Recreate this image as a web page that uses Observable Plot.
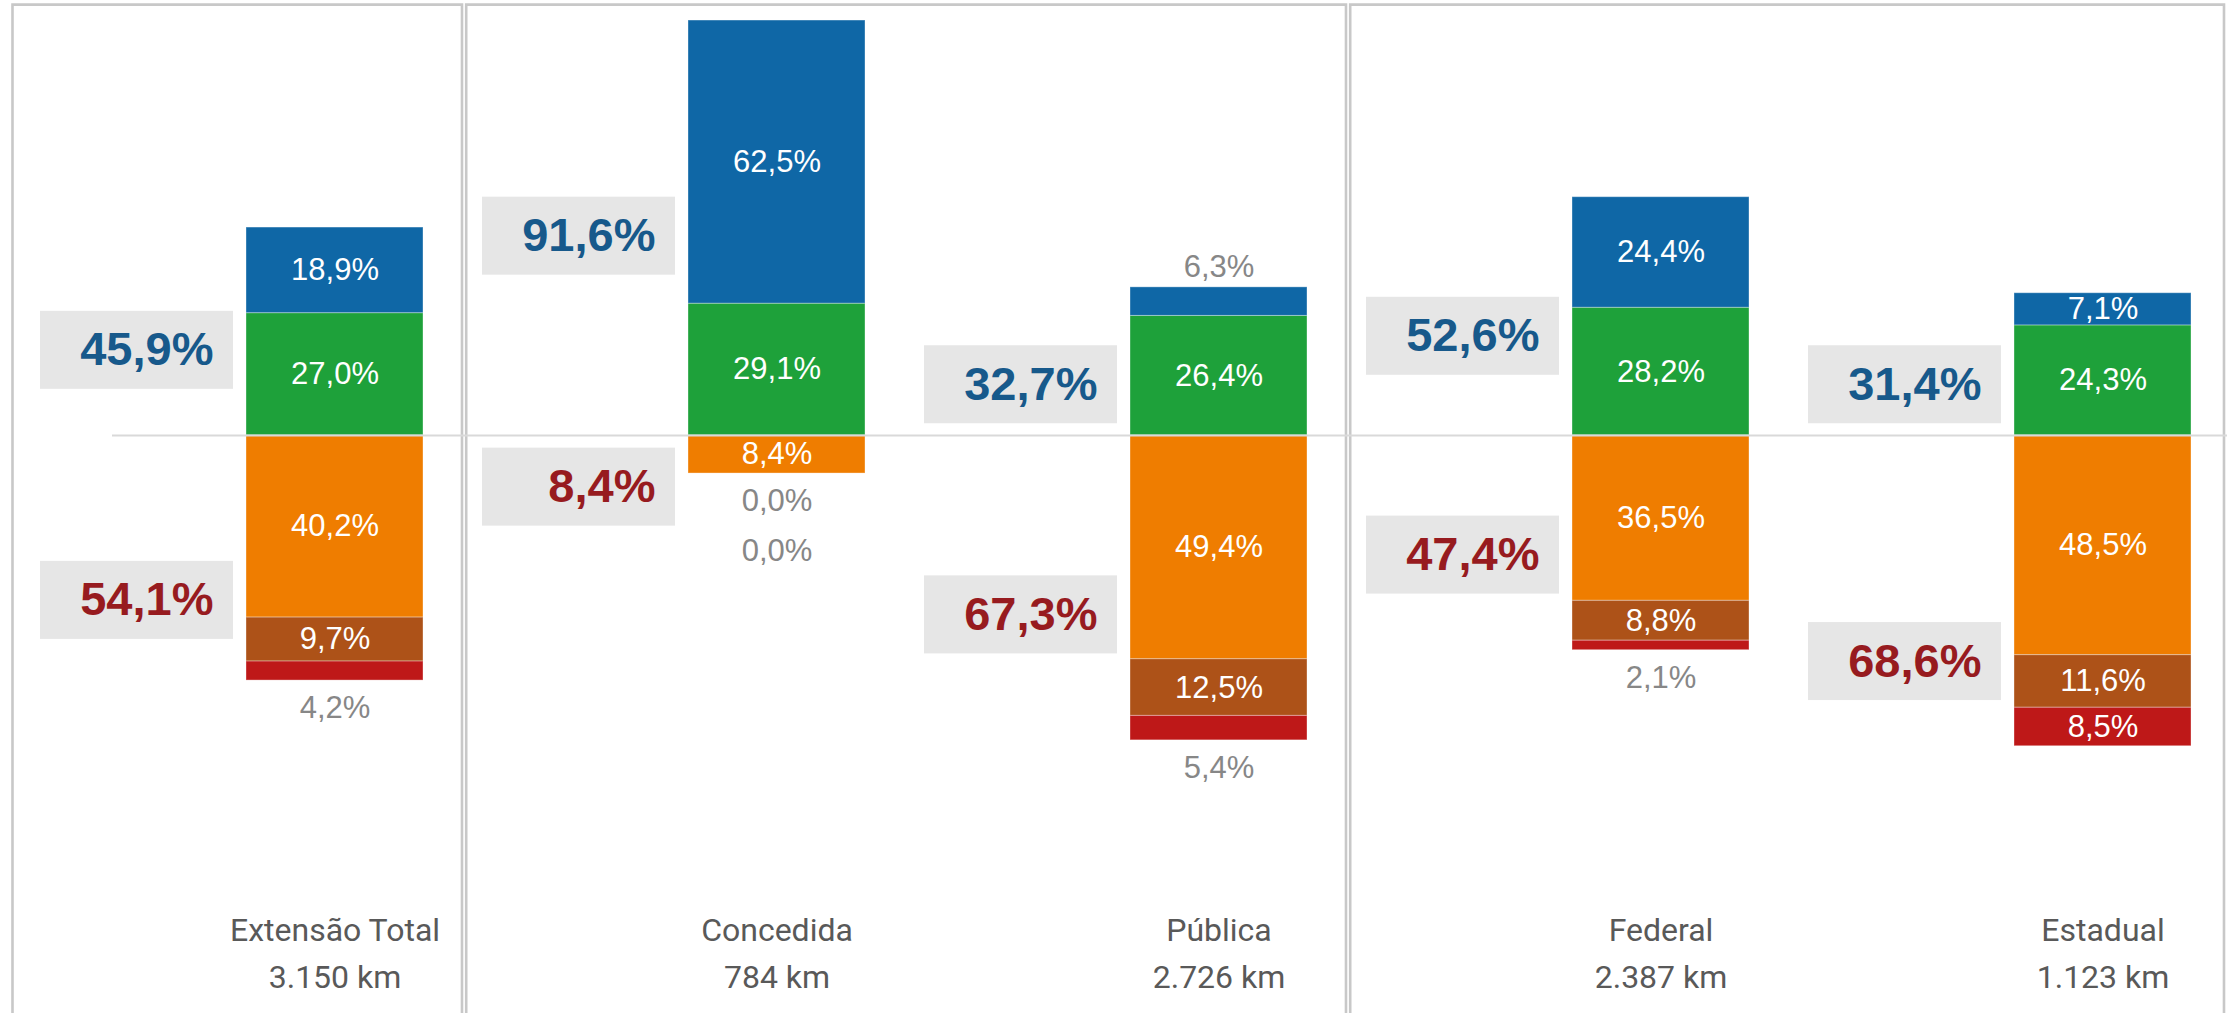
<!DOCTYPE html>
<html>
<head>
<meta charset="utf-8">
<script src="https://cdn.jsdelivr.net/npm/d3@7"></script>
<script src="https://cdn.jsdelivr.net/npm/@observablehq/plot@0.6"></script>
<style>
  html, body { margin: 0; padding: 0; background: #ffffff; }
  #chart svg { display: block; }
</style>
</head>
<body>
<div id="chart"></div>
<script>
// ---- data ----
const categories = ["Extensão Total", "Concedida", "Pública", "Federal", "Estadual"];
const kmLabels = ["3.150 km", "784 km", "2.726 km", "2.387 km", "1.123 km"];
const series = ["Ótimo", "Bom", "Regular", "Ruim", "Péssimo"];
const seriesColors = ["#0f67a6", "#1ea13a", "#ef7d00", "#ad5218", "#be1818"];
const otimo   = [18.9, 62.5,  6.3, 24.4,  7.1];
const bom     = [27.0, 29.1, 26.4, 28.2, 24.3];
const regular = [40.2,  8.4, 49.4, 36.5, 48.5];
const ruim    = [ 9.7,  0.0, 12.5,  8.8, 11.6];
const pessimo = [ 4.2,  0.0,  5.4,  2.1,  8.5];
const totalPositivo = [45.9, 91.6, 32.7, 52.6, 31.4];
const totalNegativo = [54.1,  8.4, 67.3, 47.4, 68.6];
// vertical anchor (in % units) of the grey summary boxes
const boxAnchorPositivo = [18.8, 44.0, 11.2, 21.9, 11.2];
const boxAnchorNegativo = [36.4, 11.4, 39.6, 26.4, 49.9];
const panelGroups = [["Extensão Total"], ["Concedida", "Pública"], ["Federal", "Estadual"]];

// ---- derived tables ----
const fmt = v => v.toFixed(1).replace(".", ",") + "%";
const positiveSeries = [["Bom", bom], ["Ótimo", otimo]];
const negativeSeries = [["Regular", regular], ["Ruim", ruim], ["Péssimo", pessimo]];

const rows = [];
categories.forEach((c, i) => {
  for (const [s, arr] of positiveSeries) rows.push({cat: c, serie: s, value: arr[i], v: arr[i]});
  for (const [s, arr] of negativeSeries) rows.push({cat: c, serie: s, value: -arr[i], v: arr[i]});
});

const outsideTop = [];
const outsideBottom = [];
categories.forEach((c, i) => {
  const top = d3.sum(positiveSeries, ([, a]) => a[i]);
  let k = 0;
  for (const [s, a] of [...positiveSeries].reverse()) if (a[i] < 7) outsideTop.push({cat: c, y: top, k: k++, text: fmt(a[i])});
  const bottom = -d3.sum(negativeSeries, ([, a]) => a[i]);
  k = 0;
  for (const [s, a] of negativeSeries) if (a[i] < 7) outsideBottom.push({cat: c, y: bottom, k: k++, text: fmt(a[i])});
});

const boxes = [];
categories.forEach((c, i) => {
  boxes.push({cat: c, y: boxAnchorPositivo[i], text: fmt(totalPositivo[i]), color: "#17598b"});
  boxes.push({cat: c, y: -boxAnchorNegativo[i], text: fmt(totalNegativo[i]), color: "#971b1f"});
});

// ---- panel frames, drawn from the x scale ----
function panels(index, scales, values, dims) {
  const x = scales.x;
  const bw = typeof x.bandwidth === "function" ? x.bandwidth() : x.bandwidth;
  const g = d3.create("svg:g")
    .attr("fill", "none")
    .attr("stroke", "#c8c8c8")
    .attr("stroke-width", 2.6);
  let left = x(panelGroups[0][0]) - 233.5;
  for (const gr of panelGroups) {
    const right = Math.min(x(gr[gr.length - 1]) + bw + 39, dims.width - 3);
    g.append("path").attr("d", `M${left},${dims.height + 10}V4.6H${right}V${dims.height + 10}`);
    left = right + 4.2;
  }
  return g.node();
}

const chart = Plot.plot({
  width: 2227,
  height: 1013,
  marginLeft: 112,
  marginRight: 0,
  marginTop: 0,
  marginBottom: 0,
  style: {fontFamily: "'Liberation Sans', Arial, Helvetica, sans-serif", background: "#ffffff"},
  x: {type: "band", domain: categories, range: [111.8, 2324.2], paddingInner: 0.6, paddingOuter: 0.3, align: 0.5, axis: null},
  y: {domain: [-100, 96], range: [888, 0.1], axis: null},
  color: {domain: series, range: seriesColors},
  marks: [
    panels,
    Plot.barY(boxes, {x: "cat", y1: "y", y2: "y", insetTop: -39, insetBottom: -39, insetRight: -16, dx: -206, fill: "#e6e6e6"}),
    Plot.barY(rows, Plot.stackY({x: "cat", y: "value", fill: "serie", stroke: "#ffffff", strokeOpacity: 0.35, strokeWidth: 1})),
    Plot.ruleY([0], {stroke: "#d9d9d9", strokeWidth: 2}),
    Plot.text(rows, Plot.stackY({x: "cat", y: "value", z: "serie", text: d => d.v >= 7 ? fmt(d.v) : "", fill: "#ffffff", fontSize: 31})),
    Plot.text(outsideTop, {x: "cat", y: "y", text: "text", dy: -20, fill: "#878787", fontSize: 31}),
    Plot.text(outsideBottom.filter(d => d.k === 0), {x: "cat", y: "y", text: "text", dy: 28, fill: "#878787", fontSize: 31}),
    Plot.text(outsideBottom.filter(d => d.k === 1), {x: "cat", y: "y", text: "text", dy: 78, fill: "#878787", fontSize: 31}),
    Plot.text(boxes, {x: "cat", y: "y", text: "text", dx: -121.5, textAnchor: "end", fill: "color", fontSize: 47, fontWeight: "bold"}),
    Plot.text(categories, {x: d => d, text: (d, i) => `${d}\n${kmLabels[categories.indexOf(d)]}`, frameAnchor: "bottom", lineAnchor: "bottom", dy: -26, lineHeight: 47 / 32, fontFamily: "Roboto, 'Noto Sans', sans-serif", fontSize: 32, fill: "#595959"})
  ]
});
document.getElementById("chart").appendChild(chart);
</script>
</body>
</html>
